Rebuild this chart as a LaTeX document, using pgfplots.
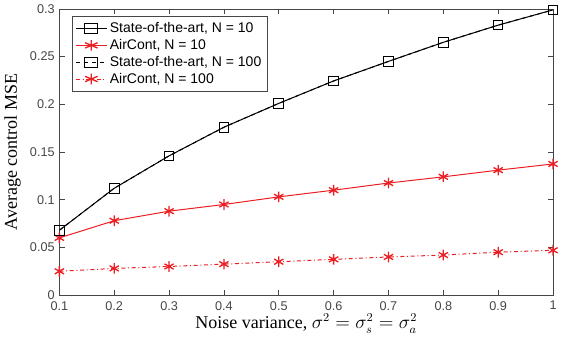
\documentclass[border=0pt]{standalone}
\usepackage{fontspec}
\setmainfont{Liberation Sans}
\newfontfamily\seriffont{Liberation Serif}
\usepackage{pgfplots}
\pgfplotsset{compat=1.18}
\definecolor{mred}{RGB}{235,30,35}
\definecolor{axgray}{RGB}{70,70,70}
\begin{document}
\begin{tikzpicture}
\begin{axis}[
  scale only axis,
  width=370pt, height=214.5pt,
  xmin=0.1, xmax=1, ymin=0, ymax=0.3,
  xtick={0.1,0.2,...,1.0},
  ytick={0,0.05,0.1,0.15,0.2,0.25,0.3},
  xticklabels={0.1,0.2,0.3,0.4,0.5,0.6,0.7,0.8,0.9,1},
  yticklabels={0,0.05,0.1,0.15,0.2,0.25,0.3},
  tick align=inside,
  major tick length=4pt,
  axis line style={axgray, line width=0.6pt},
  tick style={axgray, line width=0.6pt},
  every tick label/.append style={font=\fontsize{9.5}{11}\selectfont, text=axgray},
  xticklabel style={yshift=-1pt},
  xlabel={\seriffont Noise variance, $\sigma^2=\sigma_s^2=\sigma_a^2$},
  ylabel={\seriffont Average control MSE},
  label style={font=\fontsize{13.5}{15}\selectfont},
  xlabel style={yshift=4pt},
  ylabel style={yshift=0pt},
  legend style={at={(0.025,0.975)}, anchor=north west, font=\fontsize{10.5}{12}\selectfont,
    draw=axgray, row sep=-0.5pt, inner sep=2.5pt, line width=0.6pt},
  legend cell align=left,
  legend image post style={xscale=1.35},
]
\addplot[black, line width=0.75pt, mark=square, mark size=3.6pt, mark options={solid}] coordinates {
(0.1,0.068)(0.2,0.112)(0.3,0.146)(0.4,0.176)(0.5,0.201)(0.6,0.2245)(0.7,0.245)(0.8,0.265)(0.9,0.283)(1.0,0.299)};
\addlegendentry{State-of-the-art, N = 10}
\addplot[mred, line width=0.75pt, mark=asterisk, mark size=4pt, mark options={solid, line width=1pt}] coordinates {
(0.1,0.060)(0.2,0.078)(0.3,0.088)(0.4,0.095)(0.5,0.103)(0.6,0.110)(0.7,0.1175)(0.8,0.124)(0.9,0.131)(1.0,0.1375)};
\addlegendentry{AirCont, N = 10}
\addplot[black, line width=0.75pt, dashed, mark=square, mark size=3.6pt, mark options={solid}] coordinates {
(0.1,0.068)(0.2,0.112)(0.3,0.146)(0.4,0.176)(0.5,0.201)(0.6,0.2245)(0.7,0.245)(0.8,0.265)(0.9,0.283)(1.0,0.299)};
\addlegendentry{State-of-the-art, N = 100}
\addplot[mred, line width=0.75pt, dash dot, mark=asterisk, mark size=4pt, mark options={solid, line width=1pt}] coordinates {
(0.1,0.025)(0.2,0.028)(0.3,0.030)(0.4,0.0325)(0.5,0.035)(0.6,0.0375)(0.7,0.040)(0.8,0.042)(0.9,0.045)(1.0,0.047)};
\addlegendentry{AirCont, N = 100}
\end{axis}
\end{tikzpicture}
\end{document}
